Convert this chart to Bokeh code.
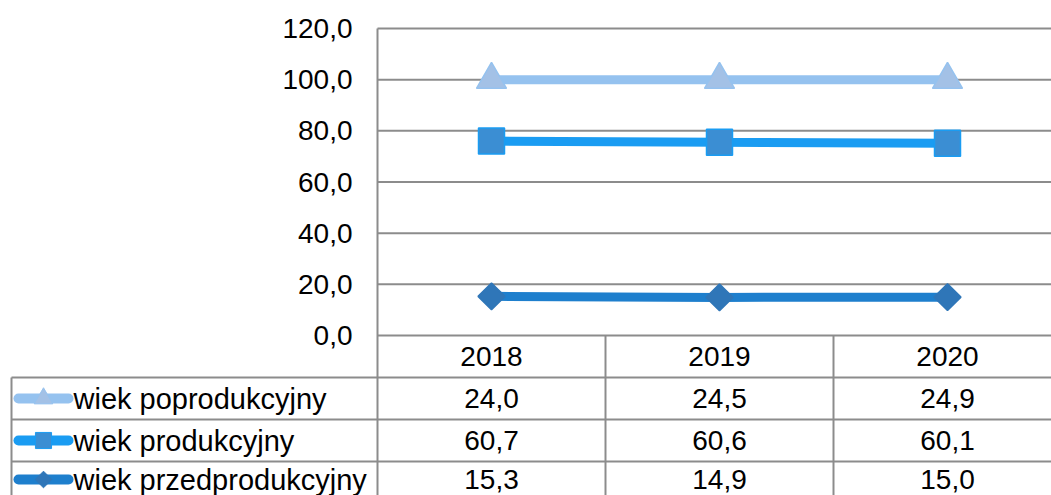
import numpy as np
from bokeh.plotting import figure
from bokeh.models import Range1d
from bokeh.core.properties import value
from bokeh.embed import file_html
from bokeh.resources import INLINE

# ---- data ----
years = ["2018", "2019", "2020"]
series_names = ["wiek poprodukcyjny", "wiek produkcyjny", "wiek przedprodukcyjny"]
poprodukcyjny = [24.0, 24.5, 24.9]
produkcyjny = [60.7, 60.6, 60.1]
przedprodukcyjny = [15.3, 14.9, 15.0]
y_ticks = [0, 20, 40, 60, 80, 100, 120]

FONT = value("Liberation Sans")
FS = "28px"
GRID = "#8c8c8c"

# stacked (cumulative) values as in the original stacked line chart
cum_przed = np.array(przedprodukcyjny)
cum_prod = cum_przed + np.array(produkcyjny)
cum_post = cum_prod + np.array(poprodukcyjny)

def fmt(v):
    return f"{v:.1f}".replace(".", ",")

# ---- geometry (picture pixels -> data units) ----
W, H = 1051, 495
COL_W = 228.0            # pixels per category column
X0_PX = 377              # x of category 0 (plot-area left)
Y0_PX, Y120_PX = 335, 28 # y of value 0 and value 120
PPU = (Y0_PX - Y120_PX) / 120.0

def xd(px):
    return (px - X0_PX) / COL_W

def yd(py):
    return (Y0_PX - py) / PPU

x_end = xd(W)
p = figure(width=W, height=H, output_backend="svg", toolbar_location=None,
           x_range=Range1d(xd(0), x_end),
           y_range=Range1d(yd(H), yd(0)),
           x_axis_location=None, y_axis_location=None, min_border=0)
p.outline_line_color = None
p.grid.visible = False
p.background_fill_color = "white"
p.border_fill_color = "white"

xs = np.arange(len(years)) + 0.5

# value axis: gridlines, axis line, tick labels
p.segment(x0=[0] * len(y_ticks), y0=y_ticks, x1=[x_end] * len(y_ticks), y1=y_ticks,
          line_color=GRID, line_width=2)
p.text(x=[xd(352)] * len(y_ticks), y=y_ticks, text=[fmt(t) for t in y_ticks],
       text_align="right", text_baseline="middle", text_font=FONT,
       text_font_size=FS, text_color="black")

# data table grid
bottom = yd(H + 5)
left_edge = xd(11)
row_lines = [yd(377), yd(419), yd(461)]
p.segment(x0=[left_edge] * 3, y0=row_lines, x1=[x_end] * 3, y1=row_lines,
          line_color=GRID, line_width=2)
p.segment(x0=[0, 1, 2, left_edge], y0=[120, 0, 0, row_lines[0]],
          x1=[0, 1, 2, left_edge], y1=[bottom] * 4, line_color=GRID, line_width=2)

styles = [
    dict(y=cum_post, line="#95C2EF", marker="triangle", fill="#A3C1E6", edge="#95C2EF", size=30, angle=0.0),
    dict(y=cum_prod, line="#1A9CF2", marker="square", fill="#3B8ED3", edge="#1A9CF2", size=26, angle=0.0),
    dict(y=cum_przed, line="#1E7FCD", marker="square", fill="#2F76B8", edge="#2F76B8", size=19, angle=np.pi / 4),
]

# series lines + markers
for s in styles:
    p.line(xs, s["y"], line_color=s["line"], line_width=9)
    p.scatter(xs, s["y"], marker=s["marker"], size=s["size"], angle=s["angle"],
              fill_color=s["fill"], line_color=s["edge"], line_width=1.5)

# header years
p.text(x=xs, y=[yd(356)] * 3, text=years, text_align="center", text_baseline="middle",
       text_font=FONT, text_font_size=FS, text_color="black")

rows = [poprodukcyjny, produkcyjny, przedprodukcyjny]
row_y = [yd(398), yd(440), yd(479)]
for vals, ry, name, s in zip(rows, row_y, series_names, styles):
    p.text(x=xs, y=[ry] * 3, text=[fmt(v) for v in vals], text_align="center",
           text_baseline="middle", text_font=FONT, text_font_size=FS, text_color="black")
    p.text(x=[xd(73)], y=[ry], text=[name], text_align="left", text_baseline="middle",
           text_font=FONT, text_font_size="29px", text_color="black")
    p.segment(x0=[xd(18)], y0=[ry], x1=[xd(68)], y1=[ry], line_color=s["line"],
              line_width=10, line_cap="round")
    p.scatter([xd(43)], [ry], marker=s["marker"], size=s["size"] * 0.62, angle=s["angle"],
              fill_color=s["fill"], line_color=s["edge"], line_width=1)

open("out.html", "w").write(file_html(p, INLINE))
